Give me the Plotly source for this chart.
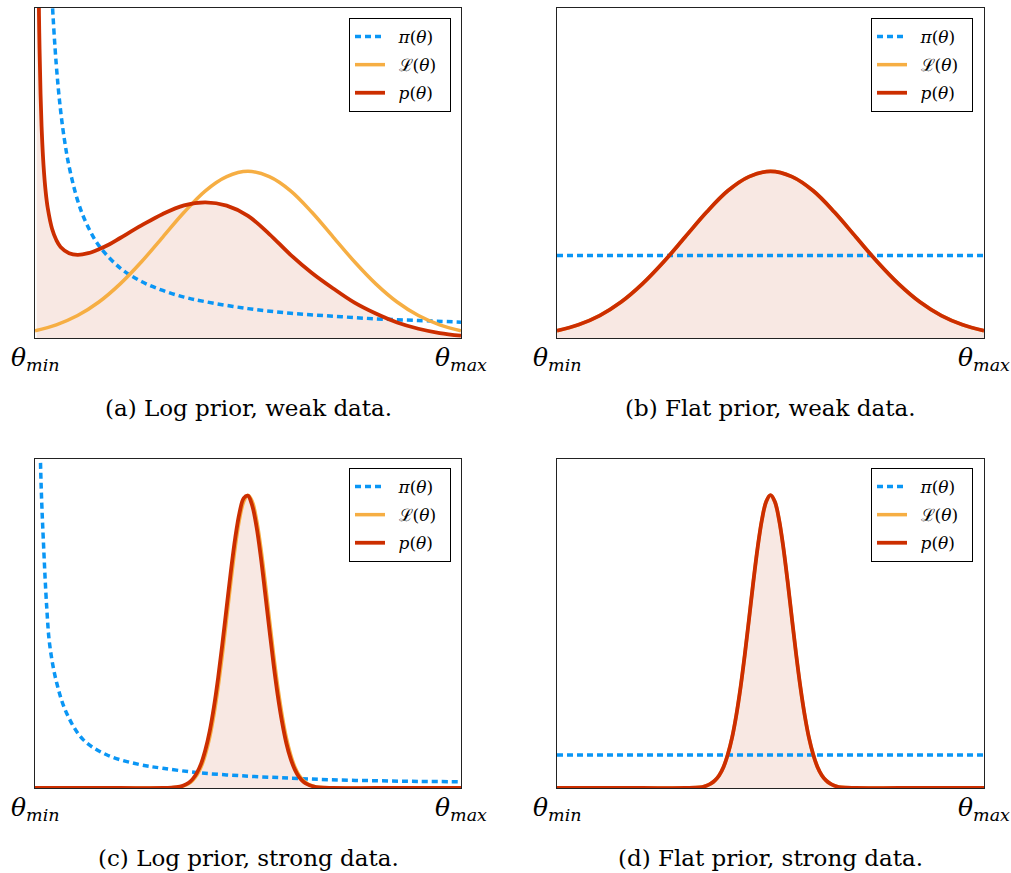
import plotly.graph_objects as go

W, H = 1011, 873

# ---------------- data (x as fraction of theta range, y as fraction of panel height)
# weak data likelihood (used in a, b) and flat posterior (b)
x_weak = [0.00, 0.05, 0.10, 0.15, 0.20, 0.25, 0.30, 0.35, 0.40, 0.45, 0.50,
          0.55, 0.60, 0.65, 0.70, 0.75, 0.80, 0.85, 0.90, 0.95, 1.00]
lik_weak = [0.022, 0.040, 0.068, 0.109, 0.164, 0.231, 0.306, 0.381, 0.446, 0.489, 0.505,
            0.489, 0.446, 0.381, 0.306, 0.231, 0.164, 0.109, 0.068, 0.040, 0.022]

# log prior, panel (a)
x_prior_a = [0.035, 0.04, 0.05, 0.06, 0.07, 0.08, 0.10, 0.12, 0.15, 0.20, 0.25,
             0.30, 0.35, 0.40, 0.50, 0.60, 0.70, 0.80, 0.90, 1.00]
prior_a = [1.18, 1.03, 0.827, 0.69, 0.593, 0.52, 0.417, 0.349, 0.28, 0.212, 0.171,
           0.144, 0.124, 0.110, 0.089, 0.075, 0.066, 0.058, 0.053, 0.048]

# posterior, panel (a)
x_post_a = [0.004, 0.006, 0.008, 0.010, 0.013, 0.016, 0.020, 0.025, 0.030, 0.040,
            0.050, 0.060, 0.080, 0.100, 0.125, 0.150, 0.175, 0.200, 0.250, 0.300,
            0.350, 0.400, 0.450, 0.500, 0.550, 0.600, 0.650, 0.700, 0.750, 0.800,
            0.850, 0.900, 0.950, 1.000]
post_a = [2.15, 1.47, 1.13, 0.926, 0.740, 0.623, 0.523, 0.444, 0.393, 0.331,
          0.297, 0.276, 0.257, 0.252, 0.257, 0.269, 0.284, 0.303, 0.341, 0.376,
          0.402, 0.411, 0.401, 0.370, 0.315, 0.252, 0.197, 0.150, 0.107, 0.074,
          0.047, 0.028, 0.015, 0.007]

# flat priors
x_flat = [0.0, 1.0]
flat_weak = [0.25, 0.25]
flat_strong = [0.10, 0.10]

# log prior, panel (c)
x_prior_c = [0.0115, 0.0135, 0.016, 0.0195, 0.0274, 0.035, 0.051, 0.074, 0.113, 0.168,
             0.246, 0.30, 0.387, 0.50, 0.60, 0.692, 0.80, 0.90, 1.00]
prior_c = [1.08, 0.96, 0.86, 0.755, 0.552, 0.43, 0.319, 0.228, 0.147, 0.101,
           0.071, 0.060, 0.046, 0.036, 0.030, 0.025, 0.022, 0.020, 0.019]

# strong data likelihood (c, d) and posteriors
x_strong = [0.00, 0.10, 0.20, 0.30, 0.32,
            0.34, 0.35, 0.36, 0.37, 0.38, 0.39, 0.40, 0.41, 0.42, 0.43, 0.44, 0.45,
            0.46, 0.47, 0.48, 0.49, 0.50, 0.51, 0.52, 0.53, 0.54, 0.55, 0.56, 0.57,
            0.58, 0.59, 0.60, 0.61, 0.62, 0.63, 0.64, 0.65, 0.66,
            0.68, 0.70, 0.80, 0.90, 1.00]
lik_strong = [0, 0, 0, 0, 0.001,
              0.003, 0.007, 0.013, 0.023, 0.039, 0.064, 0.102, 0.153, 0.222, 0.307, 0.407, 0.517,
              0.629, 0.732, 0.816, 0.871, 0.890, 0.871, 0.816, 0.732, 0.629, 0.517, 0.407, 0.307,
              0.222, 0.153, 0.102, 0.064, 0.039, 0.023, 0.013, 0.007, 0.003,
              0.001, 0, 0, 0, 0]
post_c = [0, 0, 0, 0, 0.001,
          0.004, 0.008, 0.015, 0.027, 0.046, 0.074, 0.116, 0.172, 0.246, 0.336, 0.440, 0.551,
          0.661, 0.760, 0.836, 0.881, 0.888, 0.858, 0.794, 0.703, 0.595, 0.484, 0.376, 0.280,
          0.200, 0.136, 0.089, 0.056, 0.033, 0.019, 0.011, 0.006, 0.003,
          0.001, 0, 0, 0, 0]

captions = ["(a) Log prior, weak data.", "(b) Flat prior, weak data.",
            "(c) Log prior, strong data.", "(d) Flat prior, strong data."]
end_labels = ["<i>θ<sub>min</sub></i>", "<i>θ<sub>max</sub></i>"]
names = ["\u2002<i>π</i>(<i>θ</i>)\u2002", "\u2002ℒ(<i>θ</i>)\u2002", "\u2002<i>p</i>(<i>θ</i>)\u2002"]

panels = [
    dict(prior=(x_prior_a, prior_a), lik=(x_weak, lik_weak), post=(x_post_a, post_a)),
    dict(prior=(x_flat, flat_weak), lik=(x_weak, lik_weak), post=(x_weak, lik_weak)),
    dict(prior=(x_prior_c, prior_c), lik=(x_strong, lik_strong), post=(x_strong, post_c)),
    dict(prior=(x_flat, flat_strong), lik=(x_strong, lik_strong), post=(x_strong, lik_strong)),
]

# ---------------- layout geometry (pixels)
boxes = [(35, 461, 8, 338), (557, 984, 8, 338), (35, 461, 459, 788), (557, 984, 459, 788)]
legend_pos = [(451, 18), (973, 18), (451, 468), (973, 468)]
caption_y = [408, 408, 858, 858]

BLUE = "#0A96F5"
ORANGE = "#F6AE43"
RED = "#CC2E00"
FILL = "#F8E8E3"
SERIF = "DejaVu Serif"
SMOOTH = 1.0

def px(x):
    return x / W

def py(y):
    return 1 - y / H

fig = go.Figure()
layout = dict(width=W, height=H, margin=dict(l=0, r=0, t=0, b=0, autoexpand=False),
              paper_bgcolor="white", plot_bgcolor="white", showlegend=True)
annotations = []

for i, (p, box, lp, cy, cap) in enumerate(zip(panels, boxes, legend_pos, caption_y, captions)):
    k = "" if i == 0 else str(i + 1)
    xa, ya = "x" + k, "y" + k
    leg = "legend" + k
    common = dict(xaxis=xa, yaxis=ya, legend=leg, mode="lines")
    fig.add_trace(go.Scatter(x=p["post"][0], y=p["post"][1], fill="tozeroy", fillcolor=FILL,
                             line=dict(width=0, shape="spline", smoothing=SMOOTH),
                             showlegend=False, hoverinfo="skip", **common))
    fig.add_trace(go.Scatter(x=p["prior"][0], y=p["prior"][1], name=names[0], legendgroup="a" + k,
                             line=dict(color=BLUE, width=3.5, dash="6px,4px", shape="spline", smoothing=SMOOTH),
                             **common))
    fig.add_trace(go.Scatter(x=p["lik"][0], y=p["lik"][1], name=names[1], legendgroup="b" + k,
                             line=dict(color=ORANGE, width=3.5, shape="spline", smoothing=SMOOTH),
                             **common))
    fig.add_trace(go.Scatter(x=p["post"][0], y=p["post"][1], name=names[2], legendgroup="c" + k,
                             line=dict(color=RED, width=3.8, shape="spline", smoothing=SMOOTH),
                             **common))
    x0, x1, y0, y1 = box
    layout["xaxis" + k] = dict(domain=[px(x0), px(x1)], range=[0, 1], anchor=ya,
                               showline=True, mirror=True, linecolor="#222", linewidth=1,
                               showgrid=False, zeroline=False, ticks="", showticklabels=False,
                               automargin=False, fixedrange=True)
    layout["yaxis" + k] = dict(domain=[py(y1), py(y0)], range=[0, 1], anchor=xa,
                               showline=True, mirror=True, linecolor="#222", linewidth=1,
                               showgrid=False, zeroline=False, ticks="", showticklabels=False,
                               automargin=False, fixedrange=True)
    layout[leg] = dict(x=px(lp[0]), y=py(lp[1]), xanchor="right", yanchor="top",
                       bgcolor="white", bordercolor="black", borderwidth=1,
                       font=dict(family=SERIF, size=17, color="black"),
                       tracegroupgap=3, itemwidth=30)
    annotations.append(dict(text=cap, x=px((x0 + x1) / 2), y=py(cy), xref="paper", yref="paper",
                            xanchor="center", yanchor="middle", showarrow=False,
                            font=dict(family=SERIF, size=23, color="black")))
    for xv, lab in zip([0, 1], end_labels):
        annotations.append(dict(text=lab, x=xv, xref=xa + " domain", y=py(y1 + 3), yref="paper",
                                xanchor="center", yanchor="top", showarrow=False,
                                font=dict(family=SERIF, size=25, color="black")))

layout["annotations"] = annotations
fig.update_layout(**layout)
fig.write_html("out.html")
